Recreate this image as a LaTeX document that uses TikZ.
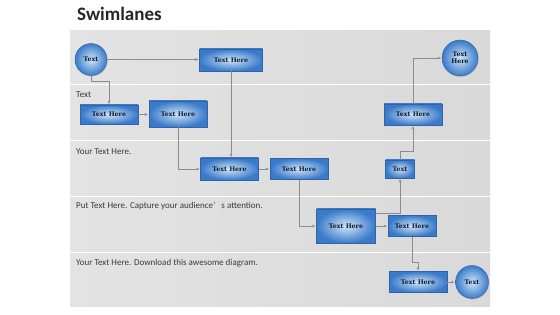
\documentclass[tikz,border=0pt]{standalone}
\usepackage{fontspec}
\setmainfont{Carlito}
\newfontfamily\boxfont{DejaVu Serif}
\usetikzlibrary{arrows.meta,shadows}
\definecolor{boxin}{HTML}{CFE5F9}
\definecolor{boxout}{HTML}{3A7AC9}
\definecolor{boxedge}{HTML}{2F64A8}
\definecolor{navy}{HTML}{0E1A2C}
\definecolor{lanel}{HTML}{E3E3E3}
\definecolor{lanem}{HTML}{EFEFEF}
\definecolor{laner}{HTML}{D9D9D9}
\definecolor{connc}{HTML}{8C8C8C}
\definecolor{labc}{HTML}{3A3A3A}
\tikzset{
  boxnode/.style={draw=boxedge, line width=0.4pt, inner color=boxin, outer color=boxout,
    font=\boxfont\bfseries\fontsize{6.3}{7.2}\selectfont, text=navy, inner sep=0pt,
    drop shadow={shadow xshift=0.7pt, shadow yshift=-0.9pt, opacity=0.35}},
  ballnode/.style={boxnode, circle, align=center},
  conn/.style={draw=connc, line width=0.5pt, shorten >=1pt, -{Stealth[length=3.2pt,width=2.8pt]}},
  lanelab/.style={anchor=west, inner sep=0pt, font=\fontsize{9}{11}\selectfont, text=labc},
  lanebg/.style={left color=lanel, middle color=lanem, right color=laner}
}
\begin{document}
\begin{tikzpicture}[x=1pt,y=-1pt]
\useasboundingbox (0,0) rectangle (560,315);
\fill[white] (0,0) rectangle (560,315);
% title
\node[anchor=west, inner sep=0pt, font=\bfseries\fontsize{19}{22}\selectfont, text=black!85] (title) at (77,14) {Swimlanes};
% lanes
\fill[lanebg] (70,31) rectangle (490,84);
\fill[lanebg] (70,86) rectangle (490,140);
\fill[lanebg] (70,142) rectangle (490,196);
\fill[lanebg] (70,198) rectangle (490,252);
\fill[lanebg] (70,254) rectangle (490,307);
% lane labels
\node[lanelab] (l2) at (76,95) {Text};
\node[lanelab] (l3) at (76,152) {Your Text Here.};
\node[lanelab] (l4) at (76,206) {Put Text Here. Capture your audience’\ \ \ s attention.};
\node[lanelab] (l5) at (76,263) {Your Text Here. Download this awesome diagram.};
% nodes
\node[ballnode, minimum size=32pt] (c1) at (91,59.5) {Text};
\node[boxnode, minimum width=63pt, minimum height=22pt] (b2) at (231,60) {Text Here};
\node[boxnode, minimum width=58pt, minimum height=19pt] (b3) at (109,114.5) {Text Here};
\node[boxnode, minimum width=58pt, minimum height=26pt] (b4) at (178,114) {Text Here};
\node[boxnode, minimum width=58pt, minimum height=22pt] (b5) at (229.5,169) {Text Here};
\node[boxnode, minimum width=58pt, minimum height=21pt] (b6) at (299,169) {Text Here};
\node[boxnode, minimum width=29pt, minimum height=18pt] (b7) at (400,169) {Text};
\node[boxnode, minimum width=59pt, minimum height=34pt] (b8) at (346,226) {Text Here};
\node[boxnode, minimum width=48pt, minimum height=21pt] (b9) at (412,226) {Text Here};
\node[boxnode, minimum width=58pt, minimum height=21pt] (b10) at (418,282) {Text Here};
\node[ballnode, minimum size=33pt] (c11) at (472,282) {Text};
\node[boxnode, minimum width=58pt, minimum height=21pt] (b12) at (413,114.5) {Text Here};
\node[ballnode, minimum size=36pt] (c13) at (460,58) {Text\\Here};
% connectors
\draw[conn] (c1.east) -- (c1.east -| b2.west);
\draw[conn] (c1.south) -- ++(0,6) -| (b3.north);
\draw[conn] (b3.east) -- (b3.east -| b4.west);
\draw[conn] (b4.south) |- (b5.west);
\draw[conn] (b2.south) -- (b2.south |- b5.north);
\draw[conn] (b5.east) -- (b6.west);
\draw[conn] (b6.south) |- (b8.west);
\draw[conn] (b8.east) -- (b9.west);
\draw[conn] ([yshift=-4pt]b8.north east) -| (b7.south);
\draw[conn] (b7.north) -- ++(0,-9) -| (b12.south);
\draw[conn] (b12.north) |- (c13.west);
\draw[conn] (b9.south) -- ++(0,26) -| (b10.north);
\draw[conn] (b10.east) -- (c11.west);
\end{tikzpicture}
\end{document}
